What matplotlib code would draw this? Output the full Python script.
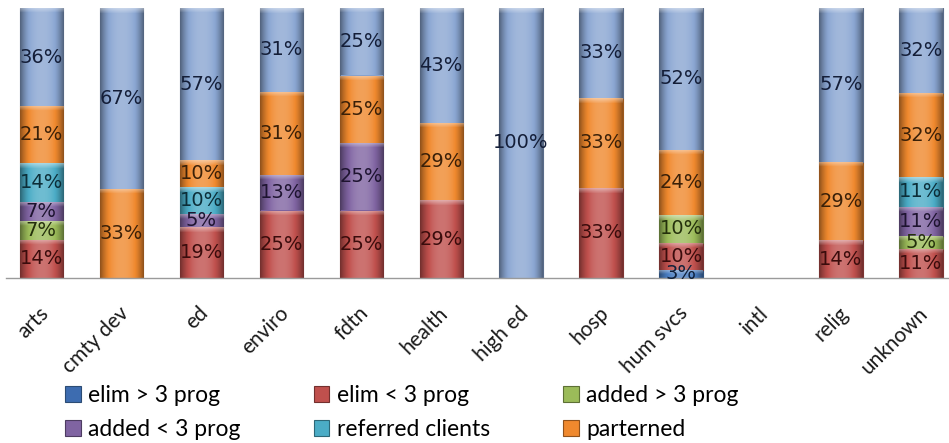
import numpy as np
import matplotlib
matplotlib.use("Agg")
import matplotlib.pyplot as plt
import matplotlib.patches as mpatches
import matplotlib.colors as mcolors
import matplotlib.transforms as mtransforms

categories = ["arts", "cmty dev", "ed", "enviro", "fdtn", "health", "high ed",
              "hosp", "hum svcs", "intl", "relig", "unknown"]

# percent values, bottom of each stack first
elim_gt3 = [0, 0, 0, 0, 0, 0, 0, 0, 3, 0, 0, 0]
elim_lt3 = [14, 0, 19, 25, 25, 29, 0, 33, 10, 0, 14, 11]
added_gt3 = [7, 0, 0, 0, 0, 0, 0, 0, 10, 0, 0, 5]
added_lt3 = [7, 0, 5, 13, 25, 0, 0, 0, 0, 0, 0, 11]
referred = [14, 0, 10, 0, 0, 0, 0, 0, 0, 0, 0, 11]
partnered = [21, 33, 10, 31, 25, 29, 0, 33, 24, 0, 29, 32]
no_change = [36, 67, 57, 31, 25, 43, 100, 33, 52, 0, 57, 32]

series_names = ["elim > 3 prog", "elim < 3 prog", "added > 3 prog",
                "added < 3 prog", "referred clients", "parterned", None]
series = [elim_gt3, elim_lt3, added_gt3, added_lt3, referred, partnered, no_change]
colors = ["#4A7EC2", "#C0504D", "#9BBB59", "#8064A2", "#4BACC6", "#F0892E", "#8AA6D2"]
text_colors = ["#10203A", "#3A0C0C", "#24300C", "#1E1430", "#0C2E38", "#3A2008", "#141E38"]

fig = plt.figure(figsize=(9.49, 4.43), dpi=100)
ax = fig.add_axes([6 / 949, 1 - 278 / 443, 943 / 949, 270 / 443])

x = np.arange(len(categories))
data = np.array(series, dtype=float)
totals = data.sum(axis=0)
totals[totals == 0] = 1
frac = data / totals

bar_w = 0.54
ax_h_px = 270.0


def shade(c, f):
    c = np.array(mcolors.to_rgb(c))
    if f >= 0:
        return c + (1 - c) * f
    return c * (1 + f)


def gradient_img(c, hpx):
    nx = 60
    t = np.linspace(0, 1, nx)
    prof = 0.2 - 0.6 * np.abs(2 * t - 1) ** 2.2
    ny = max(int(round(hpx)), 2)
    img = np.zeros((ny, nx, 3))
    for j in range(nx):
        img[:, j, :] = shade(c, prof[j])
    # bevel on top edge
    top = min(5, ny // 2)
    for r in range(top):
        img[r, :, :] = np.clip(img[r, :, :] + (1 - img[r, :, :]) * 0.4 * (1 - r / top), 0, 1)
    return img


bottom = np.zeros(len(categories))
for k, vals in enumerate(frac):
    lw = [0.8 if v > 0 else 0 for v in vals]
    bars = ax.bar(x, vals, bar_w, bottom=bottom, color=colors[k],
                  edgecolor=shade(colors[k], -0.35), linewidth=lw, zorder=2)
    for i, b in enumerate(bars):
        if vals[i] <= 0:
            b.set_visible(False)
            continue
        x0, y0 = b.get_x(), b.get_y()
        w, h = b.get_width(), b.get_height()
        im = ax.imshow(gradient_img(colors[k], h * ax_h_px),
                       extent=[x0, x0 + w, y0, y0 + h], aspect="auto",
                       interpolation="bilinear", zorder=2.5)
        im.set_clip_path(b)
        ax.text(x0 + w / 2, y0 + h / 2, "%d%%" % data[k][i], ha="center", va="center",
                fontsize=14, color=text_colors[k], family="DejaVu Sans", zorder=4)
    bottom += vals

ax.set_xlim(-0.44, 11.35)
ax.set_ylim(0, 1)
for s in ["top", "right", "left"]:
    ax.spines[s].set_visible(False)
ax.spines["bottom"].set_color("#9A9A9A")
ax.spines["bottom"].set_linewidth(1.0)
ax.set_yticks([])
ax.set_xticks(x)
ax.tick_params(axis="x", length=0, pad=0)
ax.set_xticklabels(categories, rotation=45, ha="right", va="top",
                   rotation_mode="anchor", fontsize=15, family="Lato", color="#1A1A1A")
offset = mtransforms.ScaledTranslation(-3 / 100, -25 / 100, fig.dpi_scale_trans)
for lab in ax.get_xticklabels():
    lab.set_transform(lab.get_transform() + offset)

handles = []
labels = []
for k in [0, 3, 1, 4, 2, 5]:
    handles.append(mpatches.Rectangle((0, 0), 1, 1, facecolor=colors[k] if k != 0 else "#3D6CB0",
                                      edgecolor=shade(colors[k], -0.4), linewidth=0.8))
    labels.append(series_names[k])
fig.legend(handles, labels, ncol=3, loc="upper left", bbox_to_anchor=(65 / 949, 1 - 385 / 443),
           frameon=False, prop={"family": "Lato", "size": 16.5},
           handlelength=0.68, handleheight=0.68, handletextpad=0.32,
           columnspacing=3.2, labelspacing=0.58, borderpad=0.0, borderaxespad=0.0)

fig.savefig("out.png", dpi=100)
